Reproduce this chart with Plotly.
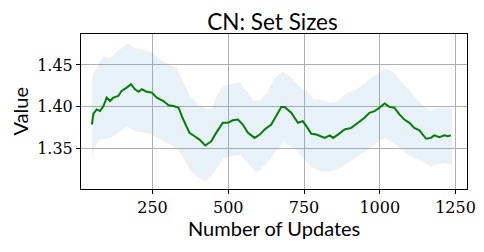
import plotly.graph_objects as go

line_x = [50,55,66,77,88,99,110,121,137,148,165,179,192,204,215,231,248,264,286,303,319,336,349,356,372,389,405,424,444,460,471,482,499,515,532,548,565,587,604,620,642,659,675,686,708,730,746,758,774,791,807,818,835,846,862,884,906,928,950,966,983,999,1016,1032,1048,1065,1081,1098,1114,1131,1142,1153,1169,1180,1197,1213,1224,1235]
line_y = [1.379,1.392,1.397,1.395,1.401,1.411,1.407,1.411,1.413,1.419,1.423,1.427,1.421,1.418,1.421,1.418,1.417,1.411,1.407,1.402,1.401,1.399,1.387,1.381,1.369,1.365,1.361,1.354,1.359,1.369,1.375,1.381,1.381,1.384,1.385,1.379,1.369,1.363,1.367,1.373,1.379,1.389,1.400,1.400,1.393,1.381,1.383,1.377,1.368,1.367,1.365,1.363,1.366,1.363,1.367,1.373,1.375,1.381,1.387,1.393,1.395,1.399,1.404,1.400,1.399,1.391,1.385,1.381,1.375,1.372,1.367,1.362,1.363,1.366,1.364,1.366,1.365,1.366]

upper_x = [50,55,76,87,110,132,170,192,220,251,275,297,330,352,374,401,429,446,462,484,517,539,561,583,605,628,650,678,705,738,760,782,804,831,859,892,925,958,991,1018,1046,1079,1112,1145,1167,1189,1238]
upper_y = [1.432,1.440,1.452,1.460,1.458,1.466,1.476,1.470,1.468,1.464,1.456,1.452,1.446,1.429,1.413,1.403,1.397,1.398,1.413,1.425,1.427,1.429,1.419,1.407,1.408,1.417,1.433,1.442,1.436,1.423,1.419,1.409,1.409,1.405,1.406,1.417,1.421,1.431,1.439,1.446,1.441,1.427,1.413,1.401,1.395,1.399,1.399]

lower_x = [50,55,76,98,121,165,192,220,242,275,308,330,352,374,396,424,451,484,517,539,561,583,600,628,661,683,716,749,771,804,831,859,903,936,969,1002,1018,1046,1079,1112,1145,1167,1189,1212,1238]
lower_y = [1.335,1.349,1.361,1.362,1.365,1.377,1.371,1.369,1.368,1.361,1.355,1.351,1.339,1.325,1.317,1.311,1.321,1.339,1.341,1.343,1.335,1.325,1.322,1.333,1.349,1.357,1.351,1.339,1.329,1.323,1.323,1.325,1.335,1.343,1.351,1.361,1.363,1.357,1.347,1.339,1.335,1.329,1.331,1.333,1.331]

x_ticks = [250, 500, 750, 1000, 1250]
y_ticks = [1.35, 1.40, 1.45]

fig = go.Figure()
fig.add_trace(go.Scatter(
    x=upper_x + lower_x[::-1], y=upper_y + lower_y[::-1],
    fill="toself", fillcolor="rgba(31,119,180,0.1)", line=dict(width=0),
    mode="lines", hoverinfo="skip", showlegend=False))
fig.add_trace(go.Scatter(x=line_x, y=line_y, mode="lines",
                         line=dict(color="green", width=2), showlegend=False))

sans = "Lato"
serif = "DejaVu Serif"
OFF = 8  # default page body margin
W, H = 484 - OFF, 252 - 2 * OFF
L, R, T = 81 - OFF, 17, 34 - OFF
B = H + OFF - 189.5
PW, PH = W - L - R, H - T - B
fig.update_layout(
    width=W, height=H,
    margin=dict(l=L, r=R, t=T, b=B, autoexpand=False),
    paper_bgcolor="white", plot_bgcolor="white",
    title=dict(text="CN: Set Sizes", xref="container", yref="container",
               x=(272.5 - OFF) / W, xanchor="center", y=1 - (22 - OFF) / H, yanchor="middle",
               font=dict(family=sans, size=22.5, color="black")),
    xaxis=dict(range=[14, 1288], tickvals=x_ticks, ticktext=[str(v) for v in x_ticks],
               showgrid=True, gridcolor="#b0b0b0", gridwidth=1,
               showline=True, mirror=True, linecolor="black", linewidth=1,
               ticks="outside", ticklen=4, tickcolor="black",
               tickfont=dict(family=serif, size=16, color="black"),
               automargin=False, zeroline=False),
    yaxis=dict(range=[1.3021, 1.4869], tickvals=y_ticks, ticktext=["1.35", "1.40", "1.45"],
               showgrid=True, gridcolor="#b0b0b0", gridwidth=1,
               showline=True, mirror=True, linecolor="black", linewidth=1,
               ticks="outside", ticklen=4, tickcolor="black",
               tickfont=dict(family=serif, size=16, color="black"),
               automargin=False, zeroline=False),
    annotations=[
        dict(text="Number of Updates", xref="paper", yref="paper",
             x=0.5, y=-(229 - 189.5) / PH, xanchor="center", yanchor="middle",
             showarrow=False, font=dict(family=sans, size=20, color="black")),
        dict(text="Value", xref="paper", yref="paper",
             x=-(81 - 19) / PW, y=0.5, xanchor="center", yanchor="middle",
             textangle=-90, showarrow=False, font=dict(family=sans, size=20, color="black")),
    ],
)
fig.write_html("out.html", config={"displayModeBar": False})
